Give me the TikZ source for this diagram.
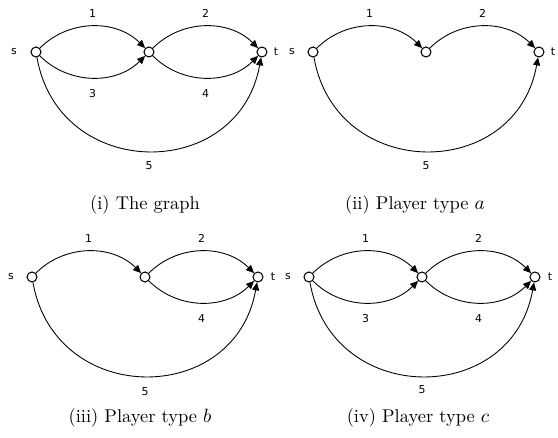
\documentclass[tikz,border=0pt]{standalone}
\usepackage{fontspec}
\newfontfamily\lblfont{DejaVu Sans}
\usetikzlibrary{positioning,arrows.meta}

\begin{document}
\begin{tikzpicture}[x=0.02cm, y=0.02cm,
  vertex/.style={draw, circle, inner sep=0pt, minimum size=0.2cm, line width=0.6pt, fill=white},
  edge/.style={-{Triangle[length=4.5pt,width=4pt]}, line width=0.5pt},
  lbl/.style={font=\lblfont\fontsize{6.2}{7}\selectfont, inner sep=0pt},
  caption/.style={font=\fontsize{10.5}{12.5}\selectfont},
  node distance=2.26cm, on grid]
\useasboundingbox (0,0) rectangle (558,-438);

% (i) the graph
\node[vertex] (s1) at (36,-52) {};
\node[vertex, right=of s1] (m1) {};
\node[vertex, right=of m1] (t1) {};
\node[lbl, left=0.44cm of s1] (s1l) {s};
\node[lbl, right=0.28cm of t1] (t1l) {t};
\draw[edge] (s1) to[bend left=45] node[lbl, yshift=0.26cm] {1} (m1);
\draw[edge] (m1) to[bend left=45] node[lbl, yshift=0.26cm] {2} (t1);
\draw[edge] (s1) to[bend right=45] node[lbl, yshift=-0.32cm] {3} (m1);
\draw[edge] (m1) to[bend right=45] node[lbl, yshift=-0.32cm] {4} (t1);
\draw[edge] (s1) to[out=-80, in=-100, looseness=1.45] node[lbl, yshift=-0.3cm] {5} (t1);
\node[caption] (cap1) at (145,-205) {(i) The graph};

% (ii) player type a
\node[vertex] (s2) at (313,-52) {};
\node[vertex, right=of s2] (m2) {};
\node[vertex, right=of m2] (t2) {};
\node[lbl, left=0.42cm of s2] (s2l) {s};
\node[lbl, right=0.28cm of t2] (t2l) {t};
\draw[edge] (s2) to[bend left=45] node[lbl, yshift=0.26cm] {1} (m2);
\draw[edge] (m2) to[bend left=45] node[lbl, yshift=0.26cm] {2} (t2);
\draw[edge] (s2) to[out=-80, in=-100, looseness=1.45] node[lbl, yshift=-0.3cm] {5} (t2);
\node[caption] (cap2) at (415,-205) {(ii) Player type $a$};

% (iii) player type b
\node[vertex] (s3) at (32,-277) {};
\node[vertex, right=of s3] (m3) {};
\node[vertex, right=of m3] (t3) {};
\node[lbl, left=0.42cm of s3] (s3l) {s};
\node[lbl, right=0.3cm of t3] (t3l) {t};
\draw[edge] (s3) to[bend left=45] node[lbl, yshift=0.26cm] {1} (m3);
\draw[edge] (m3) to[bend left=45] node[lbl, yshift=0.26cm] {2} (t3);
\draw[edge] (m3) to[bend right=45] node[lbl, yshift=-0.32cm] {4} (t3);
\draw[edge] (s3) to[out=-80, in=-100, looseness=1.45] node[lbl, yshift=-0.32cm] {5} (t3);
\node[caption] (cap3) at (140,-418) {(iii) Player type $b$};

% (iv) player type c
\node[vertex] (s4) at (309,-277) {};
\node[vertex, right=of s4] (m4) {};
\node[vertex, right=of m4] (t4) {};
\node[lbl, left=0.42cm of s4] (s4l) {s};
\node[lbl, right=0.3cm of t4] (t4l) {t};
\draw[edge] (s4) to[bend left=45] node[lbl, yshift=0.26cm] {1} (m4);
\draw[edge] (m4) to[bend left=45] node[lbl, yshift=0.26cm] {2} (t4);
\draw[edge] (s4) to[bend right=45] node[lbl, yshift=-0.32cm] {3} (m4);
\draw[edge] (m4) to[bend right=45] node[lbl, yshift=-0.32cm] {4} (t4);
\draw[edge] (s4) to[out=-80, in=-100, looseness=1.45] node[lbl, yshift=-0.28cm] {5} (t4);
\node[caption] (cap4) at (418,-418) {(iv) Player type $c$};
\end{tikzpicture}
\end{document}
